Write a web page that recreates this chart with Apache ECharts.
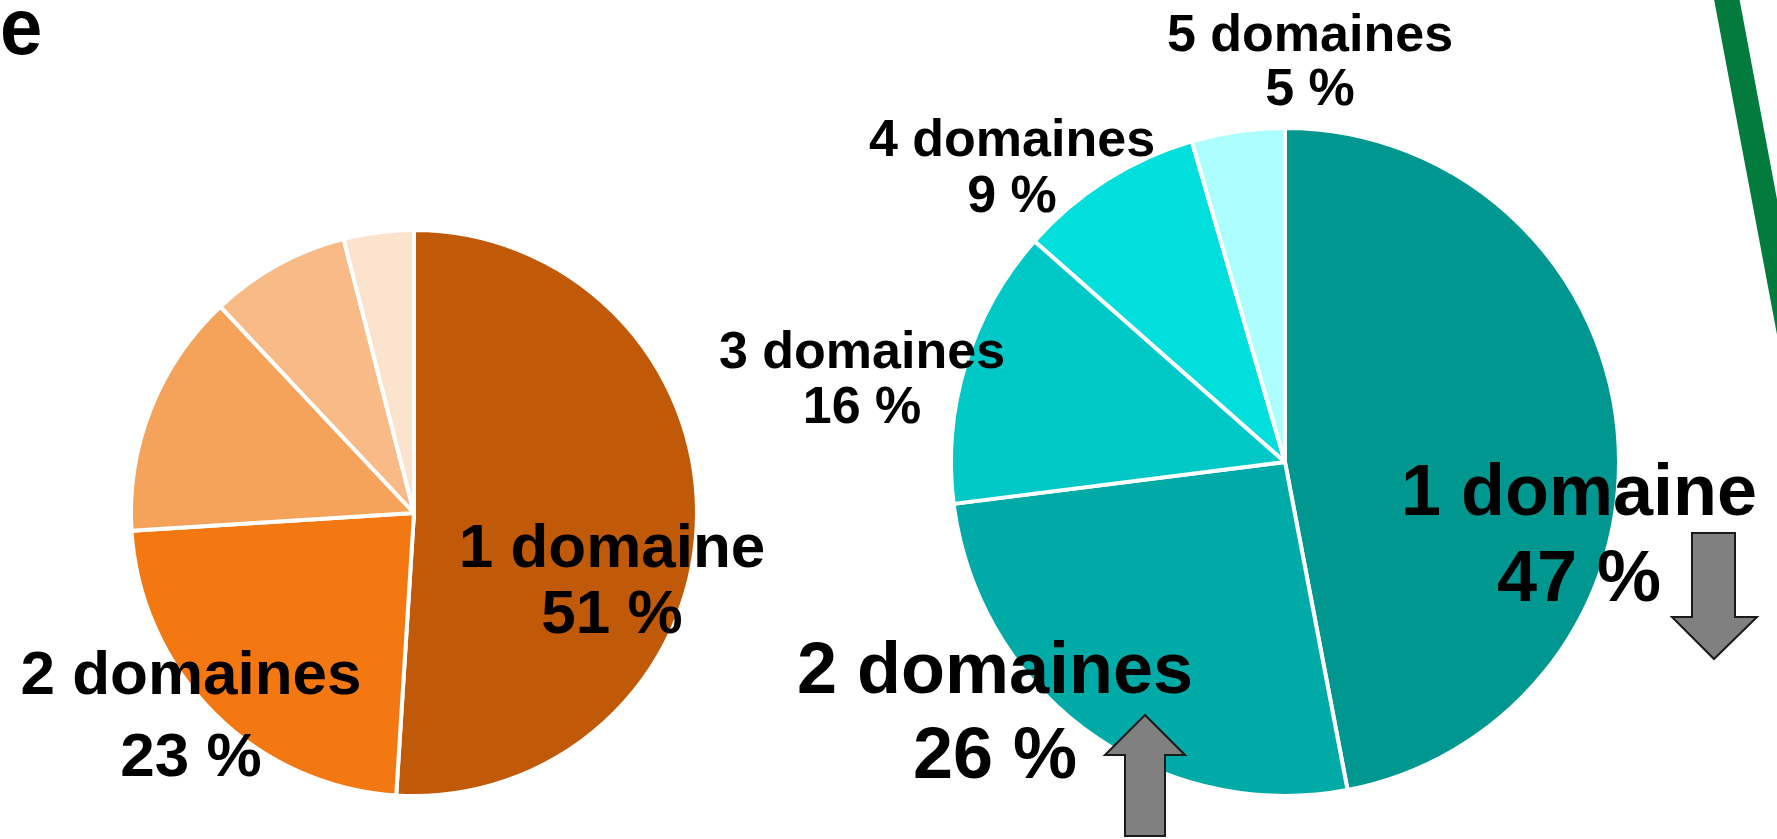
<!DOCTYPE html>
<html>
<head>
<meta charset="utf-8">
<script src="https://cdn.jsdelivr.net/npm/echarts@6/dist/echarts.min.js"></script>
<style>
  html, body { margin: 0; padding: 0; background: #fff; }
  #chart { width: 1777px; height: 839px; }
</style>
</head>
<body>
<div id="chart"></div>
<script>
// categories
const domaines = ['1 domaine', '2 domaines', '3 domaines', '4 domaines', '5 domaines'];

// left pie (shares as drawn)
const leftValues = [51, 23, 14, 8, 4];
const leftPct = [51, 23, 14, 8, 4];
const leftShowLabel = [true, true, false, false, false];

// right pie: slice sizes as drawn, printed percentages
const rightValues = [47, 26, 13.5, 9, 4.5];
const rightPct = [47, 26, 16, 9, 5];

const leftColors = ['#C05A08', '#F47812', '#F5A25A', '#F8BB88', '#FCE3CE'];
const rightColors = ['#009791', '#00AAA7', '#00C8C6', '#00DFDB', '#ADFFFF'];

// label block centres [x, y], font size, line height
const leftLabelPos = [[612, 583, 62, 66], [191, 718, 62, 82]];
const rightLabelPos = [
  [1579, 538, 72, 86],
  [995, 716, 72, 85],
  [862, 381, 52, 55],
  [1012, 170, 52, 56],
  [1310, 64, 52, 54]
];

const FONT = '"Liberation Sans", Arial, sans-serif';

function makeData(values, pct, colors, show, pos) {
  return values.map((v, i) => ({
    name: domaines[i],
    value: v,
    pct: pct[i],
    itemStyle: { color: colors[i] },
    label: {
      show: show[i],
      fontSize: pos[i] ? pos[i][2] : 12,
      lineHeight: pos[i] ? pos[i][3] : 12
    }
  }));
}

const chart = echarts.init(document.getElementById('chart'), null, { renderer: 'canvas' });

const baseSeries = {
  type: 'pie',
  startAngle: 90,
  clockwise: true,
  animation: false,
  silent: true,
  avoidLabelOverlap: false,
  itemStyle: { borderColor: '#fff', borderWidth: 4 },
  labelLine: { show: false },
  label: {
    position: 'inside',
    color: '#000',
    fontFamily: FONT,
    fontWeight: 'bold',
    align: 'center',
    formatter: p => p.name + '\n' + p.data.pct + ' %'
  }
};

const option = {
  backgroundColor: '#fff',
  series: [
    Object.assign({}, baseSeries, {
      center: [414, 513],
      radius: 283,
      data: makeData(leftValues, leftPct, leftColors, leftShowLabel, leftLabelPos),
      labelLayout: p => {
        const c = leftLabelPos[p.dataIndex];
        return c ? { x: c[0], y: c[1], align: 'center', verticalAlign: 'middle' } : {};
      }
    }),
    Object.assign({}, baseSeries, {
      center: [1285, 462],
      radius: 334,
      data: makeData(rightValues, rightPct, rightColors, [true, true, true, true, true], rightLabelPos),
      labelLayout: p => {
        const c = rightLabelPos[p.dataIndex];
        return { x: c[0], y: c[1], align: 'center', verticalAlign: 'middle' };
      }
    })
  ],
  graphic: [
    {
      type: 'text', left: 0, top: -8, scaleX: 0.95, z: 100,
      style: { text: 'e', font: 'bold 80px "Liberation Sans", Arial, sans-serif', fill: '#000' }
    },
    {
      type: 'line', z: 100,
      shape: { x1: 1725, y1: -10, x2: 1802, y2: 400 },
      style: { stroke: '#037B3D', lineWidth: 25 }
    },
    {
      // down arrow
      type: 'polygon', z: 100,
      shape: { points: [[1692, 533], [1735, 533], [1735, 617], [1757, 617], [1714, 659], [1672, 617], [1692, 617]] },
      style: { fill: '#808080', stroke: '#1a1a1a', lineWidth: 2 }
    },
    {
      // up arrow
      type: 'polygon', z: 100,
      shape: { points: [[1145, 715], [1185, 755], [1165, 755], [1165, 836], [1125, 836], [1125, 755], [1105, 755]] },
      style: { fill: '#808080', stroke: '#1a1a1a', lineWidth: 2 }
    }
  ]
};

chart.setOption(option);
</script>
</body>
</html>
